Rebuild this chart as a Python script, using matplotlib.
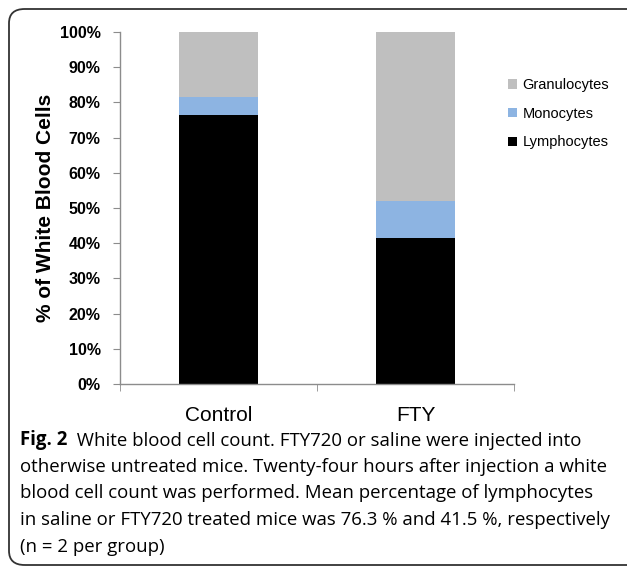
import matplotlib
matplotlib.use("Agg")
import matplotlib.pyplot as plt
from matplotlib.patches import FancyBboxPatch
import numpy as np

groups = ["Control", "FTY"]
lymphocytes = [76.4, 41.5]
monocytes = [5.2, 10.4]
granulocytes = [18.4, 48.1]
ytick_vals = [0, 10, 20, 30, 40, 50, 60, 70, 80, 90, 100]

caption_lines = [
    "otherwise untreated mice. Twenty-four hours after injection a white",
    "blood cell count was performed. Mean percentage of lymphocytes",
    "in saline or FTY720 treated mice was 76.3 % and 41.5 %, respectively",
    "(n = 2 per group)",
]

W, H = 627, 568
fig = plt.figure(figsize=(W / 100, H / 100), dpi=100)

# rounded frame round the figure, right side runs off the edge
frame = FancyBboxPatch((9 / W, 1 - 565 / H), 650 / W, 556 / H,
                       boxstyle="round,pad=0,rounding_size=0.025",
                       transform=fig.transFigure, fill=False,
                       edgecolor="#333333", linewidth=1.3)
fig.patches.append(frame)

ax = fig.add_axes([120 / W, 1 - 384 / H, 394 / W, 352 / H])
x = np.arange(len(groups))
bw = 0.4
lym = np.array(lymphocytes)
mon = np.array(monocytes)
gra = np.array(granulocytes)
ax.bar(x, lym, bw, color="#000000", label="Lymphocytes")
ax.bar(x, mon, bw, bottom=lym, color="#8DB4E2", label="Monocytes")
ax.bar(x, gra, bw, bottom=lym + mon, color="#BFBFBF", label="Granulocytes")

ax.set_xlim(-0.5, 1.5)
ax.set_ylim(0, 100)
for s in ["top", "right"]:
    ax.spines[s].set_visible(False)
for s in ["left", "bottom"]:
    ax.spines[s].set_color("#8C8C8C")
    ax.spines[s].set_linewidth(1.0)

ax.set_yticks(ytick_vals)
ax.set_yticklabels([f"{v}%" for v in ytick_vals], fontsize=11.5,
                   fontweight="bold", family="Liberation Sans")
ax.tick_params(axis="y", length=5, color="#8C8C8C", pad=9)

ax.set_xticks(x)
ax.set_xticklabels(groups, fontsize=15, family="Liberation Sans")
ax.set_xticks([-0.5, 0.5, 1.5], minor=True)
ax.tick_params(axis="x", which="major", length=0, pad=16)
ax.tick_params(axis="x", which="minor", length=5, color="#8C8C8C")

fig.text(46 / W, 1 - 208 / H, "% of White Blood Cells", rotation=90,
         ha="center", va="center", fontsize=15, fontweight="bold",
         family="Liberation Sans")

h, l = ax.get_legend_handles_labels()
ax.legend(h[::-1], l[::-1], loc="upper left",
          bbox_to_anchor=(495 / W, 1 - 65 / H), bbox_transform=fig.transFigure,
          frameon=False, handlelength=0.6, handleheight=0.6,
          handletextpad=0.4, labelspacing=1.0,
          prop={"family": "Liberation Sans", "size": 10.5})

# caption
cap_font = "Open Sans"
fs = 13.4
fig_t = fig.text(20 / W, 1 - 440 / H, "Fig. 2", ha="left", va="center",
                 fontsize=fs, fontweight="bold", family=cap_font)
ax.annotate("  White blood cell count. FTY720 or saline were injected into",
            xy=(1, 0), xycoords=fig_t, xytext=(0, 0), textcoords="offset points",
            ha="left", va="bottom", fontsize=fs, family=cap_font)
for i, line in enumerate(caption_lines):
    fig.text(20 / W, 1 - (467 + 26.5 * i) / H, line, ha="left", va="center",
             fontsize=fs, family=cap_font)

fig.savefig("out.png", dpi=100)
